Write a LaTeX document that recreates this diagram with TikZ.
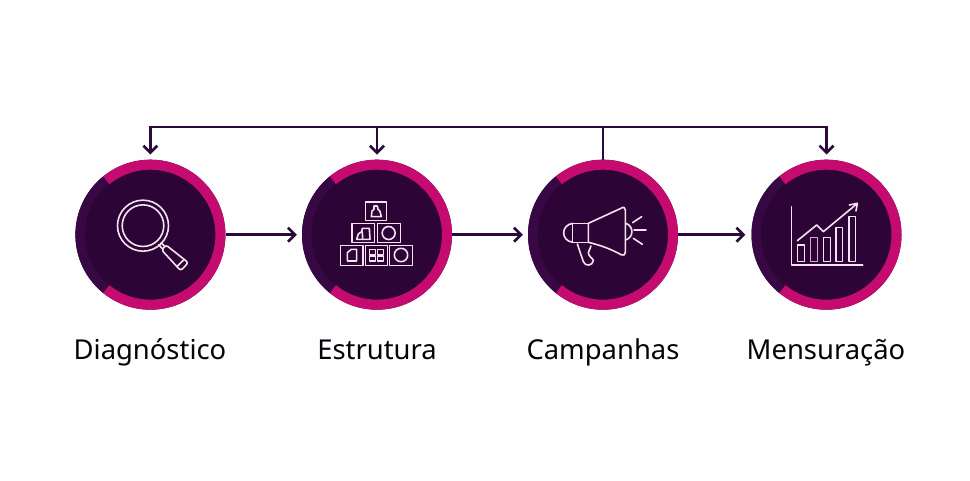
\documentclass[tikz,border=0pt]{standalone}
\usepackage{fontspec}
\setmainfont{Noto Sans}
\usetikzlibrary{arrows.meta}
\definecolor{ink}{HTML}{2A0A3A}
\definecolor{core}{HTML}{2C0436}
\definecolor{rim}{HTML}{380845}
\definecolor{magent}{HTML}{C50A70}
\definecolor{icon}{HTML}{F6E3F2}
\tikzset{
  stepdisc/.style={circle,fill=rim,draw=none,minimum size=150pt,inner sep=0pt},
  steptext/.style={font=\fontsize{27.4}{32}\selectfont,text=black!85!ink,anchor=base},
  conn/.style={draw=ink,line width=2.5pt,line join=miter},
  arr/.style={conn,-{Straight Barb[length=7pt,width=14pt,line width=2.6pt]}},
  ico/.style={draw=icon,line width=1.6pt,line join=round,line cap=round,fill=none},
  zoomed/.style={x=0.33333pt,y=-0.33333pt}
}
\begin{document}
\begin{tikzpicture}[x=1pt,y=-1pt]
\useasboundingbox (0,0) rectangle (970,480);
\fill[white!99.5!black] (0,0) rectangle (970,480);
% discs
\node[stepdisc] (c1) at (150.4,234.7) {};
\node[stepdisc] (c2) at (377,234.7) {};
\node[stepdisc] (c3) at (603,234.7) {};
\node[stepdisc] (c4) at (826.5,234.7) {};
% connectors
\coordinate (t1) at (150.4,127);
\coordinate (t2) at (377,127);
\coordinate (t3) at (603,127);
\coordinate (t4) at (826.5,127);
\draw[arr,shorten >=5pt] (c1) -- (c2);
\draw[arr,shorten >=5pt] (c2) -- (c3);
\draw[arr,shorten >=6pt] (c3) -- (c4);
\draw[conn] (c3) -- (t3);
\draw[arr,shorten >=5pt] (t3) -| (c1);
\draw[arr,shorten >=5pt] (t3) -| (c4);
\draw[arr,shorten >=5pt] (t2) -- (c2);
% disc fronts over connector starts
\foreach \cx in {150.4,377,603,826.5}{
  \begin{scope}[shift={(\cx,234.7)},y=1pt]
    \fill[rim] (129:75) arc[start angle=129,end angle=231,radius=75pt] -- (231:65) arc[start angle=231,end angle=129,radius=65pt] -- cycle;
    \fill[core] (0,0) circle[radius=65.5pt];
    \draw[magent,line width=10pt] (129:70) arc[start angle=129,end angle=-129,radius=70pt];
  \end{scope}
}
% magnifier
\begin{scope}[shift={(60,110)},zoomed]
  \draw[ico] (249,347) circle[radius=25.5pt];
  \draw[ico] (249,347) circle[radius=20.8pt];
  \draw[ico] (303,399) -- (314,408);
  \draw[ico] (296,404) -- (307,416);
  \draw[ico,rounded corners=2.5pt] (318,405) -- (385,458) -- (362,482) -- (305,420) -- cycle;
  \draw[ico] (372,449) -- (350,470);
\end{scope}
% blocks
\begin{scope}[shift={(290,110)},zoomed]
  \draw[ico] (226,276) rectangle (290,331);
  \draw[ico] (186,340) rectangle (253,398);
  \draw[ico] (262,340) rectangle (331,398);
  \draw[ico] (152,406) rectangle (219,466);
  \draw[ico] (226,406) rectangle (293,466);
  \draw[ico] (299,406) rectangle (367,466);
  \draw[ico] (296,369) circle[radius=6.5pt];
  \draw[ico] (333,435) circle[radius=6.7pt];
  \draw[ico] (244,320) -- (246,303) -- (252,298) -- (252,288) -- (262,288) -- (264,298) -- (270,304) -- (274,320) -- cycle;
  \draw[ico] (200,388) -- (205,372) -- (215,365) -- (217,355) -- (238,355) -- (240,388) -- cycle;
  \draw[ico] (217,365) -- (218,388);
  \draw[ico] (172,428) -- (184,418) -- (200,418) -- (200,453) -- (172,453) -- cycle;
  \draw[ico] (238,418) rectangle (256,433);
  \draw[ico] (263,418) rectangle (280,433);
  \draw[ico] (238,438) rectangle (256,453);
  \draw[ico] (263,438) rectangle (280,453);
\end{scope}
% megaphone
\begin{scope}[shift={(520,110)},zoomed]
  \draw[ico] (205,340) -- (303,295) .. controls (310,290) and (316,292) .. (316,300) -- (316,427) .. controls (316,435) and (310,438) .. (303,434) .. controls (275,418) and (240,405) .. (205,397) -- cycle;
  \draw[ico] (158,340) rectangle (205,397);
  \draw[ico] (158,340) .. controls (122,345) and (122,392) .. (158,397);
  \draw[ico] (317,340) .. controls (342,348) and (342,382) .. (317,390);
  \draw[ico] (172,402) -- (190,455) .. controls (195,470) and (218,468) .. (220,452) .. controls (220,445) and (205,440) .. (205,428) -- (213,408);
  \draw[ico] (338,338) -- (365,320);
  \draw[ico] (342,360) -- (378,360);
  \draw[ico] (340,385) -- (367,403);
\end{scope}
% chart
\begin{scope}[shift={(740,110)},zoomed]
  \draw[ico] (154,290) -- (154,465) -- (368,465);
  \draw[ico] (173,405) rectangle (194,455);
  \draw[ico,draw=icon!70!magent] (212,382) rectangle (233,455);
  \draw[ico] (251,382) rectangle (272,455);
  \draw[ico] (288,352) rectangle (307,455);
  \draw[ico] (327,320) rectangle (346,455);
  \draw[ico] (172,392) -- (230,345) -- (250,365) -- (350,282);
  \draw[ico] (328,285) -- (352,280) -- (348,303);
\end{scope}
% labels
\node[steptext] (l1) at (150,359) {Diagnóstico};
\node[steptext] (l2) at (377,359) {Estrutura};
\node[steptext] (l3) at (603,359) {Campanhas};
\node[steptext] (l4) at (826,359) {Mensuração};
\end{tikzpicture}
\end{document}
